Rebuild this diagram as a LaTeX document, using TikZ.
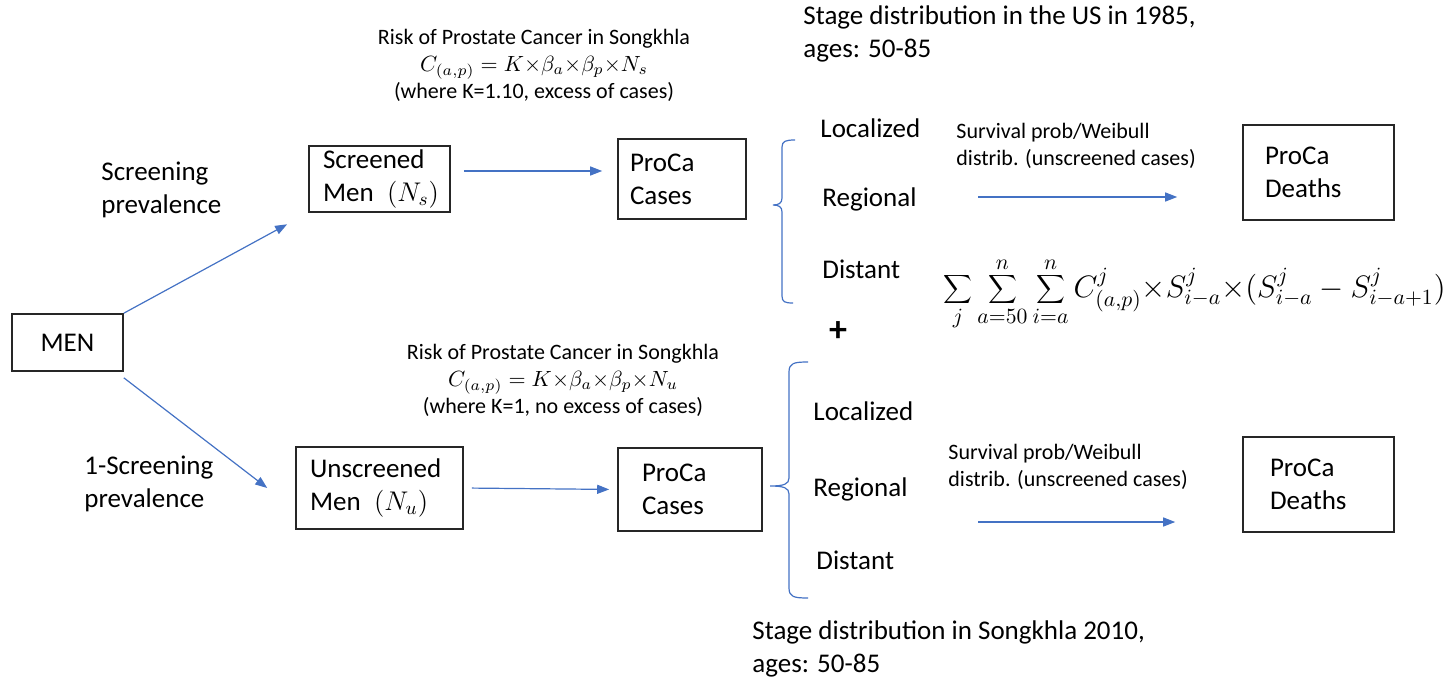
\RequirePackage{fix-cm}
\documentclass[tikz,border=0pt]{standalone}
\usepackage{fontspec}
\setmainfont{Carlito}
\usetikzlibrary{arrows.meta}
\definecolor{FlowBlue}{RGB}{68, 114, 196}
\newcommand{\mainsize}{\fontsize{13.5pt}{16.5pt}\selectfont}
\newcommand{\notesize}{\fontsize{11pt}{13.5pt}\selectfont}
\newcommand{\tx}{{\times}}

\begin{document}
\begin{tikzpicture}[x=0.5pt, y=-0.5pt,
    modelbox/.style={draw=black!85, line width=0.8pt, align=left, font=\mainsize, inner ysep=0pt},
    flow/.style={FlowBlue, line width=0.6pt, -{Triangle[length=6pt, width=4.5pt]}},
    bracket/.style={FlowBlue, line width=0.6pt},
    lbl/.style={font=\mainsize, align=left, anchor=west, inner sep=0pt},
    note/.style={font=\notesize, align=center, inner sep=0pt}]

    \useasboundingbox (0,0) rectangle (1454,679);

    % Boxes
    \node[modelbox, align=center, minimum width=55.5pt, minimum height=28.5pt] (men) at (67.5,342.5) {MEN};
    \node[modelbox, text width=56.5pt, inner xsep=7pt, minimum height=33pt] (scr) at (379.5,179) {Screened\\Men\enspace$(N_s)$};
    \node[modelbox, text width=69.5pt, inner xsep=7pt, minimum height=41pt] (uns) at (379.5,488) {Unscreened\\Men\enspace$(N_u)$};
    \node[modelbox, text width=52pt, inner xsep=6pt, minimum height=40pt] (casU) at (682,179) {ProCa\\Cases};
    \node[modelbox, text width=48pt, inner xsep=12pt, minimum height=41.5pt] (casL) at (690,489.5) {ProCa\\Cases};
    \node[modelbox, text width=53.5pt, inner xsep=11pt, minimum height=47.5pt] (dthU) at (1318.5,172.5) {ProCa\\Deaths};
    \node[modelbox, text width=48.5pt, inner xsep=13.5pt, minimum height=47.5pt] (dthL) at (1318.5,484.5) {ProCa\\Deaths};

    % Screening split
    \node[lbl] (scrprev) at (101,190) {Screening\\prevalence};
    \node[lbl] (unsprev) at (84,484) {1-Screening\\prevalence};
    \draw[flow, shorten >=12pt] (men.north east) -- (scr.south west);
    \draw[flow] ([yshift=-3pt]men.south east) -- ([xshift=-14pt]uns.west);

    % Risk of cancer
    \node[note] (riskU) at (534,65) {Risk of Prostate Cancer in Songkhla\\
        $C_{(a,p)} = K\tx\beta_a\tx\beta_p\tx N_s$\\
        (where K=1.10, excess of cases)};
    \node[note] (riskL) at (563,380) {Risk of Prostate Cancer in Songkhla\\
        $C_{(a,p)} = K\tx\beta_a\tx\beta_p\tx N_u$\\
        (where K=1, no excess of cases)};
    \draw[flow] ([shift={(6.5pt,4pt)}]scr.east) -- ([shift={(-7.5pt,4pt)}]casU.west);
    \draw[flow, shorten <=4pt, shorten >=4pt] (uns.east) -- (casL.west);

    % Stage distributions
    \node[lbl] (stageU) at (803,34) {Stage distribution in the US in 1985,\\ages: 50-85};
    \node[lbl] (stageL) at (752,649) {Stage distribution in Songkhla 2010,\\ages: 50-85};
    \draw[bracket] (795,140) .. controls (786,140) and (782,141) .. (782,147) -- (782,198)
        .. controls (782,203) and (779,205) .. (773,205)
        .. controls (779,205) and (782,207) .. (782,212) -- (782,296)
        .. controls (782,302) and (785,303) .. (793,303);
    \draw[bracket] (808,362) .. controls (794,362) and (789,363) .. (789,372) -- (789,478)
        .. controls (789,484) and (784,486) .. (770,486)
        .. controls (784,486) and (789,488) .. (789,494) -- (789,588)
        .. controls (789,597) and (794,598) .. (808,598);
    \node[lbl] (locU) at (820,128) {Localized};
    \node[lbl] (regU) at (822,199) {Regional};
    \node[lbl] (disU) at (822,269) {Distant};
    \node[lbl] (locL) at (813,411) {Localized};
    \node[lbl] (regL) at (813,489) {Regional};
    \node[lbl] (disL) at (816,560) {Distant};

    % Survival
    \node[lbl, font=\notesize] (survtxtU) at (956,146) {Survival prob/Weibull\\distrib. (unscreened cases)};
    \node[lbl, font=\notesize] (survtxtL) at (948,467) {Survival prob/Weibull\\distrib. (unscreened cases)};
    \coordinate (survU) at (978,197);
    \coordinate (survL) at (978,522);
    \draw[flow, shorten >=32.5pt] (survU) -- (survU -| dthU.west);
    \draw[flow, shorten >=33.5pt] (survL) -- (survL -| dthL.west);

    % Deaths formula
    \node[font=\fontsize{18pt}{18pt}\selectfont\bfseries, inner sep=0pt] (plus) at (838,332) {+};
    \node[anchor=west, inner sep=0pt, font=\fontsize{15.5pt}{19pt}\selectfont] (sumeq) at (943,294)
        {$\displaystyle\sum_{j}\sum_{a=50}^{n}\sum_{i=a}^{n} C^{j}_{(a,p)}\tx S^{j}_{i-a}\tx(S^{j}_{i-a}-S^{j}_{i-a+1})$};
\end{tikzpicture}
\end{document}
